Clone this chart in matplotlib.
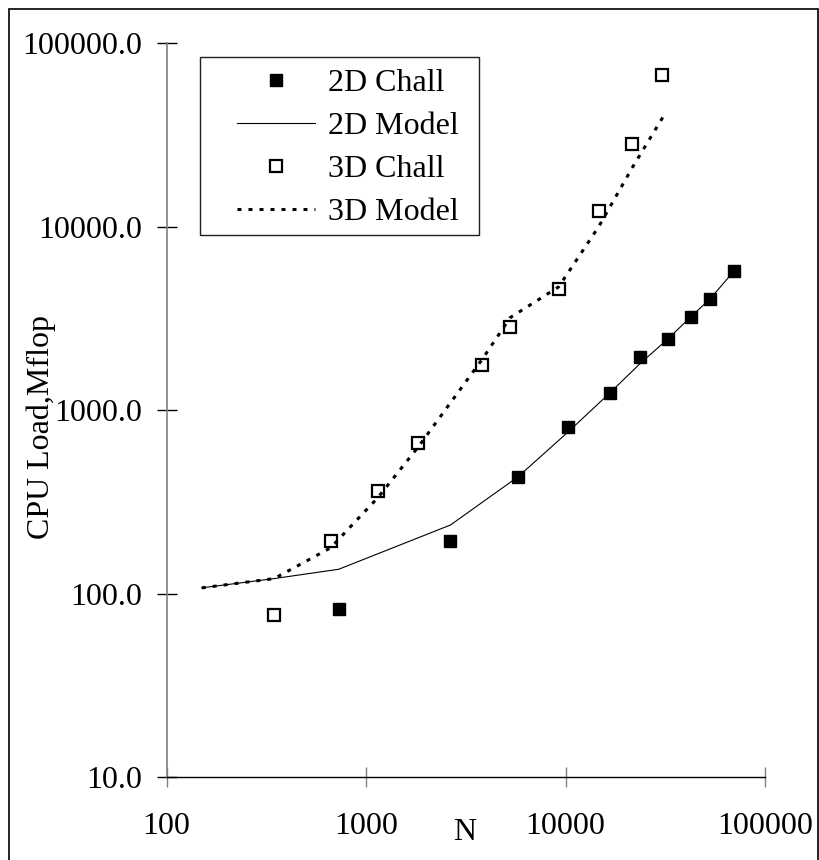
import numpy as np
import matplotlib.pyplot as plt
from matplotlib.patches import Rectangle

plt.rcParams['font.family'] = ['Liberation Serif', 'DejaVu Serif']

# measured points
n_2d = [729, 2649, 5780, 10280, 16750, 23700, 32720, 42380, 53100, 70300]
load_2d = [82.3, 194, 434, 815, 1248, 1958, 2455, 3221, 4048, 5768]

n_3d = [346, 664, 1148, 1823, 3827, 5283, 9230, 14660, 21620, 30400]
load_3d = [76.6, 194, 363, 661, 1775, 2857, 4603, 12250, 28200, 67100]

# model curves
n_2d_model = [150, 346, 729, 2649, 5780, 10280, 16750, 23700, 32720, 42380, 53100, 70300]
load_2d_model = [107.7, 121, 136, 237, 434, 760, 1248, 1800, 2455, 3221, 4048, 5768]

n_3d_model = [150, 346, 664, 1148, 1823, 3827, 5283, 9230, 14660, 21620, 31050]
load_3d_model = [107.7, 121, 178, 335, 630, 1900, 3200, 4700, 10000, 21000, 40200]

fs = 23

fig = plt.figure(figsize=(8.19, 8.6), dpi=100)
ax = fig.add_axes([0.2035, 0.0962, 0.7305, 0.8535])

ax.plot(n_2d, load_2d, 's', color='black', markersize=9, label='2D Chall')
ax.plot(n_2d_model, load_2d_model, '-', color='black', lw=0.8, label='2D Model')
ax.plot(n_3d, load_3d, 's', mfc='white', mec='black', mew=1.6, markersize=8.5,
        label='3D Chall')
ax.plot(n_3d_model, load_3d_model, color='black', lw=2.2, dashes=(1.3, 2.3),
        label='3D Model')

ax.set_xscale('log')
ax.set_yscale('log')
ax.set_xlim(100, 100000)
ax.set_ylim(10, 100000)
ax.set_xticks([100, 1000, 10000, 100000])
ax.set_xticklabels(['100', '1000', '10000', '100000'])
ax.set_yticks([10, 100, 1000, 10000, 100000])
ax.set_yticklabels(['10.0', '100.0', '1000.0', '10000.0', '100000.0'])
ax.minorticks_off()

ax.spines['top'].set_visible(False)
ax.spines['right'].set_visible(False)
ax.spines['left'].set_color('#808080')
ax.spines['left'].set_linewidth(1.2)
ax.spines['bottom'].set_color('black')
ax.spines['bottom'].set_linewidth(1.0)

ax.tick_params(axis='y', direction='inout', length=14.4, width=1.0,
               color='black', labelsize=fs, pad=10.8)
ax.tick_params(axis='x', direction='inout', length=14.4, width=1.0,
               color='#808080', labelsize=fs, pad=18)

ax.set_xlabel('N', fontsize=fs)
ax.xaxis.set_label_coords(0.4986, -0.056)
ax.set_ylabel('CPU Load,Mflop', fontsize=fs)
ax.yaxis.set_label_coords(-0.185, 0.477)

# legend entries without their own frame; box drawn separately
leg = ax.legend(loc='upper left', bbox_to_anchor=(236.7 / 819, 1 - 69 / 860),
                bbox_transform=fig.transFigure, fontsize=fs, frameon=False,
                handlelength=2.45, handletextpad=0.4, labelspacing=0.42,
                borderpad=0, borderaxespad=0)
fig.patches.append(Rectangle((200.3 / 819, 1 - 235 / 860), 278.4 / 819, 177.7 / 860,
                             transform=fig.transFigure, fill=False,
                             edgecolor='#202020', lw=1.0))

# outer border
fig.patches.append(Rectangle((9 / 819, -0.01), 809 / 819, 1.01 - 9 / 860,
                             transform=fig.transFigure, fill=False,
                             edgecolor='black', lw=1.2))

fig.savefig('out.png', dpi=100)
